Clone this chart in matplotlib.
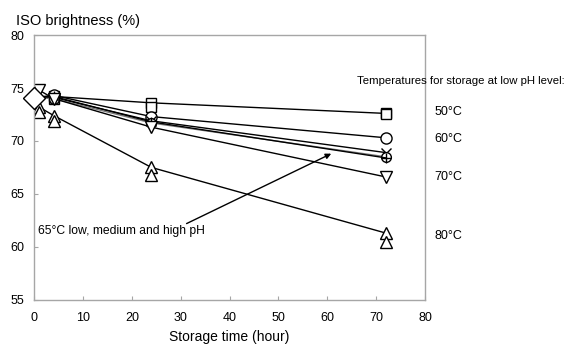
import matplotlib
matplotlib.use("Agg")
import matplotlib.pyplot as plt

plt.rcParams['font.family'] = ['Liberation Sans', 'DejaVu Sans']

# storage time (hour) and ISO brightness (%)
t_full = [0, 4, 24, 72]
t_late = [1, 4, 24, 72]

sq_a = [74.1, 74.2, 73.6, 72.6]      # 50 C
sq_b = [74.1, 74.0, 73.2, 72.5]      # 50 C
circ = [74.1, 74.3, 72.3, 70.3]      # 60 C
low_ph = [74.1, 74.1, 71.9, 68.9]    # 65 C low pH
med_ph = [74.1, 74.0, 71.7, 68.5]    # 65 C medium pH
high_ph = [74.1, 74.2, 71.8, 68.4]   # 65 C high pH
tri_dn = [74.8, 74.0, 71.3, 66.6]    # 70 C
tri_up_a = [73.2, 72.4, 67.5, 61.3]  # 80 C
tri_up_b = [72.7, 71.9, 66.8, 60.5]  # 80 C
start_t, start_b = [0], [74.1]       # initial pulp

temp_labels = ['50°C', '60°C', '70°C', '80°C']
temp_label_y = [72.7, 70.2, 66.6, 61.0]

fig = plt.figure(figsize=(5.69, 3.54), dpi=100)
ax = fig.add_axes([0.06, 0.153, 0.687, 0.748])

mk = dict(mfc='white', mec='black', color='black', lw=1.0, mew=1.0)
ax.plot(t_full, sq_a, marker='s', ms=7, **mk)
ax.plot(t_full, sq_b, marker='s', ms=7, ls='none', mfc='white', mec='black', mew=1.0)
ax.plot(t_full, circ, marker='o', ms=8, **mk)
ax.plot(t_full, low_ph, marker='x', ms=7, color='black', lw=1.0, mew=1.0)
ax.plot(t_full, med_ph, marker='o', ms=7, mfc='white', mec='black',
        color='#777777', lw=1.0, mew=1.0)
ax.plot(t_full, high_ph, marker='+', ms=7, color='black', lw=1.0, mew=1.0)
ax.plot(t_late, tri_dn, marker='v', ms=8, **mk)
ax.plot(t_late, tri_up_a, marker='^', ms=8, **mk)
ax.plot(t_late, tri_up_b, marker='^', ms=8, ls='none', mfc='white', mec='black', mew=1.0)
ax.plot(start_t, start_b, marker='D', ms=11, ls='none',
        mfc='white', mec='black', mew=1.0, clip_on=False, zorder=5)

ax.set_xlim(0, 80)
ax.set_ylim(55, 80)
ax.set_xticks(range(0, 81, 10))
ax.set_yticks(range(55, 81, 5))
for s in ax.spines.values():
    s.set_color('#a6a6a6')
    s.set_linewidth(1.0)
ax.tick_params(direction='in', length=3, color='#a6a6a6', labelsize=9)
ax.tick_params(axis='x', pad=9)
ax.tick_params(axis='y', pad=7)

ax.set_xlabel('Storage time (hour)', fontsize=10, labelpad=4)
fig.text(0.028, 0.94, 'ISO brightness (%)', fontsize=10.5, ha='left', va='center')

ax.text(66.0, 75.7, 'Temperatures for storage at low pH level:',
        fontsize=8.2, va='center', ha='left', clip_on=False)
for lab, yv in zip(temp_labels, temp_label_y):
    ax.text(82, yv, lab, fontsize=9, va='center', ha='left', clip_on=False)

ax.annotate('', xy=(60.8, 68.8), xytext=(31.2, 62.2),
            arrowprops=dict(arrowstyle='-|>', color='black', lw=1.0,
                            mutation_scale=8, shrinkA=0, shrinkB=0))
ax.text(0.8, 61.5, '65°C low, medium and high pH', fontsize=8.7,
        va='center', ha='left')

fig.savefig('out.png', dpi=100)
